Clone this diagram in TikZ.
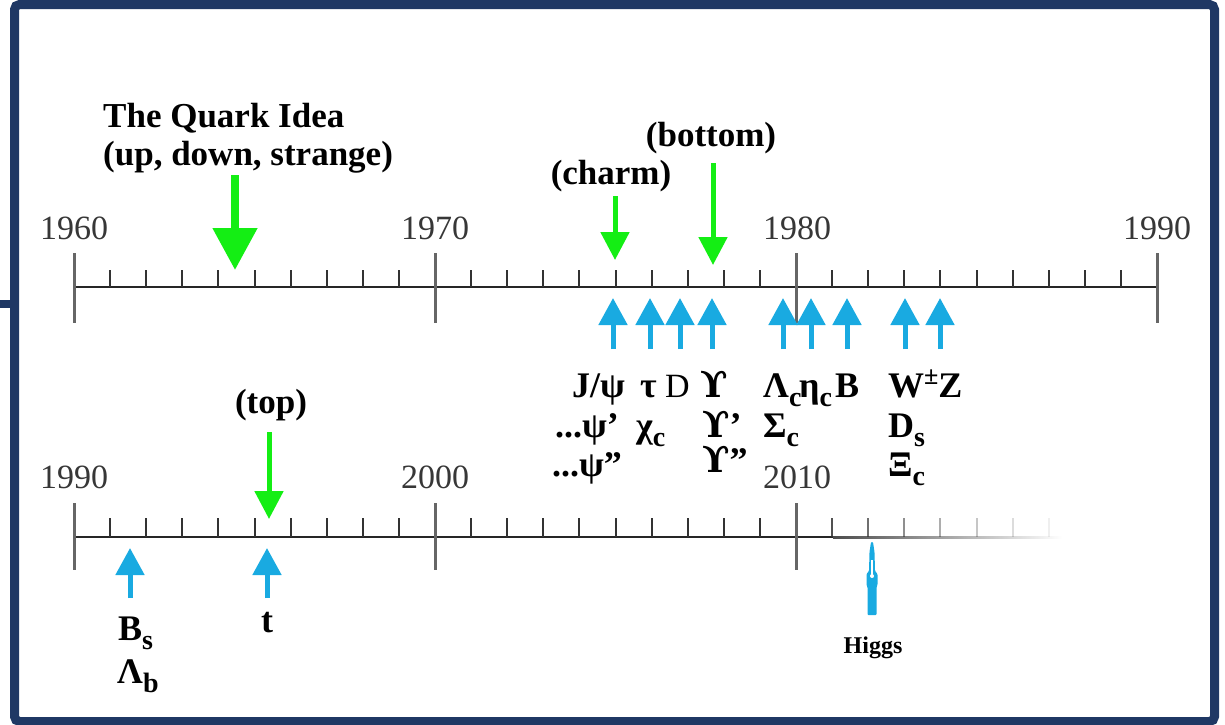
\documentclass[tikz,border=0pt]{standalone}
\usepackage{fontspec}
\setmainfont{Liberation Serif}
\newfontfamily\dvs{DejaVu Serif}
\usetikzlibrary{arrows.meta}
\definecolor{navy}{RGB}{31,56,100}
\definecolor{qgreen}{RGB}{20,238,20}
\definecolor{pblue}{RGB}{25,170,225}
\definecolor{yeargray}{RGB}{55,55,55}
\newcommand\pdn[1]{\raisebox{-9pt}{\fontsize{28}{28}\selectfont #1}}
\newcommand\pup[1]{\raisebox{13pt}{\fontsize{26}{26}\selectfont #1}}
\newcommand\ups{{\dvs\bfseries ϒ}}
\begin{document}
\begin{tikzpicture}[x=1pt,y=-1pt,
  axis/.style={line width=2.2pt, draw=black!85},
  major/.style={line width=3pt, draw=black!60},
  minor/.style={line width=2pt, draw=black!80},
  year/.style={font=\fontsize{34}{34}\selectfont, text=yeargray, anchor=base, inner sep=0pt},
  lbl/.style={font=\fontsize{35}{38}\selectfont\bfseries, anchor=base, inner sep=0pt},
  part/.style={font=\fontsize{36}{36}\selectfont\bfseries, anchor=base west, inner sep=0pt},
  garrow/.style={draw=qgreen, line width=5pt, -{Triangle[width=28pt,length=28pt]}},
  barrow/.style={draw=pblue, line width=5pt, -{Triangle[width=28pt,length=27pt]}},
]
\useasboundingbox (0,0) rectangle (1225,724);
\fill[white] (0,0) rectangle (1225,724);
% frame
\draw[navy, line width=9pt, rounded corners=5pt] (14.5,4.5) rectangle (1214.5,721.5);
\draw[navy, line width=8pt] (0,304) -- (12,304);

% ---------- top time line 1960-1990 ----------
\coordinate (T0) at (74,287);
\coordinate (T1) at (1157,287);
\draw[axis] (T0) -- (T1);
\foreach \d in {0,10,20}
  \foreach \j in {1,...,9}
    \draw[minor] ({74+36.1*(\d+\j)},270) -- ({74+36.1*(\d+\j)},287);
\foreach \d in {0,1,2,3}
  \draw[major] ({74+361*\d},253) -- ({74+361*\d},323);
\node[year] (y1960) at (74,239) {1960};
\node[year] (y1970) at (435,239) {1970};
\node[year] (y1980) at (797,239) {1980};
\node[year] (y1990) at (1157,239) {1990};

% ---------- bottom time line 1990-2017 ----------
\coordinate (B0) at (74,537);
\coordinate (B1) at (833,537);
\draw[axis] (B0) -- (B1);
\shade[left color=black!70, right color=white] (833,536) rectangle (1062,538);
\foreach \d in {0,10}
  \foreach \j in {1,...,9}
    \draw[minor] ({74+36.1*(\d+\j)},518) -- ({74+36.1*(\d+\j)},537);
\foreach \j/\o in {1/0.85,2/0.7,3/0.55,4/0.4,5/0.28,6/0.17,7/0.08}
  \draw[minor, draw opacity=\o] ({796+36.1*\j},518) -- ({796+36.1*\j},537);
\foreach \d in {0,1,2}
  \draw[major] ({74+361*\d},503) -- ({74+361*\d},570);
\node[year] (y1990b) at (74,488) {1990};
\node[year] (y2000) at (435,488) {2000};
\node[year] (y2010) at (797,488) {2010};

% ---------- quark labels and green arrows ----------
\node[lbl, anchor=base west] (quark) at (103,127) {The Quark Idea};
\node[lbl, anchor=base west] (uds) at (103,165) {(up, down, strange)};
\coordinate (udsA) at (235,175);
\coordinate (udsT) at (235,270);
\draw[garrow, line width=8pt, -{Triangle[width=43pt,length=42pt]}] (udsA) -- (udsT);

\node[lbl] (charm) at (611,184) {(charm)};
\coordinate (charmA) at (615,196);
\coordinate (charmT) at (615,260);
\draw[garrow] (charmA) -- (charmT);

\node[lbl] (bottom) at (711,146) {(bottom)};
\coordinate (bottomA) at (713,163);
\coordinate (bottomT) at (713,265);
\draw[garrow] (bottomA) -- (bottomT);

\node[lbl] (top) at (271,413) {(top)};
\coordinate (topA) at (269,432);
\coordinate (topT) at (269,519);
\draw[garrow] (topA) -- (topT);

% ---------- blue discovery arrows ----------
\foreach \x [count=\k] in {613,650,680,712,783,811,847,905,940}{
  \coordinate (pa\k) at (\x,349);
  \coordinate (pt\k) at (\x,298);
  \draw[barrow] (pa\k) -- (pt\k);
}
\foreach \x [count=\k] in {130,267}{
  \coordinate (qa\k) at (\x,598);
  \coordinate (qt\k) at (\x,548);
  \draw[barrow] (qa\k) -- (qt\k);
}

% ---------- particle labels ----------
\node[part] (jpsi) at (572,397) {J/ψ};
\node[part] (tau) at (640,397) {τ};
\node[part, font=\fontsize{34}{34}\selectfont] (dmes) at (665,397) {D};
\node[part] (ups1) at (700,397) {\ups};
\node[part] (lamc) at (763,397) {Λ\pdn{c}};
\node[part] (etac) at (799,397) {η\pdn{c}};
\node[part] (bmes) at (835,397) {B};
\node[part] (wz) at (888,397) {W\pup{±}Z};

\node[part] (psi2) at (555,437) {...ψ'};
\node[part] (chic) at (636,437) {χ\pdn{c}};
\node[part] (ups2) at (702,437) {\ups'};
\node[part] (sigc) at (763,437) {Σ\pdn{c}};
\node[part] (ds) at (888,437) {D\pdn{s}};

\node[part] (psi3) at (552,476) {...ψ''};
\node[part] (ups3) at (702,472) {\ups''};
\node[part] (xic) at (888,476) {Ξ\pdn{c}};

\node[part] (bs) at (118,640) {B\pdn{s}};
\node[part] (lamb) at (117,683) {Λ\pdn{b}};
\node[part, anchor=base] (tq) at (267,632) {t};

% ---------- Higgs ----------
\coordinate (hg) at (872,543);
\fill[pblue, rounded corners=1pt] (871,542) -- (873,542) -- (874.5,552) -- (875,571)
  -- (877.5,574) -- (877.5,585) -- (876.5,587) -- (876.5,615) -- (867.5,615)
  -- (867.5,587) -- (866.5,585) -- (866.5,574) -- (869,571) -- (869.5,552) -- cycle;
\draw[white, line width=1.3pt] (872,560) -- (872,575);
\fill[white] (872,576) circle (2pt);
\node[lbl, font=\fontsize{24}{24}\selectfont\bfseries] (higgs) at (873,653) {Higgs};
\end{tikzpicture}
\end{document}
